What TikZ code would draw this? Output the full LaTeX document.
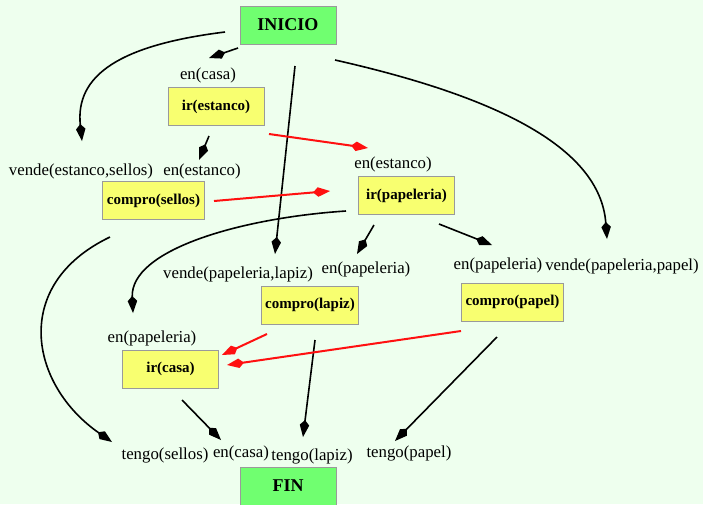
\documentclass[tikz,border=0pt]{standalone}
\usepackage{fontspec}
\setmainfont{Liberation Serif}
\usetikzlibrary{arrows.meta}

\definecolor{bgmint}{HTML}{EEFFEE}
\definecolor{endgreen}{HTML}{70FF70}
\definecolor{actyellow}{HTML}{F8FF70}
\definecolor{boxedge}{HTML}{9A9A9A}
\definecolor{linkred}{HTML}{FF1010}

\tikzset{
  endbox/.style={draw=boxedge, line width=1pt, fill=endgreen, minimum width=96pt,
    minimum height=38pt, inner xsep=4pt, font=\fontsize{18}{20}\selectfont\bfseries},
  actbox/.style={draw=boxedge, line width=1pt, fill=actyellow, minimum width=96pt,
    minimum height=38pt, inner xsep=4pt, font=\fontsize{15}{17}\selectfont\bfseries},
  lit/.style={inner sep=0pt, font=\fontsize{16.8}{18}\selectfont},
  tip/.style={-{Kite[length=17pt,width=9.5pt,inset=5pt]}},
  causal/.style={tip, line width=1.6pt, black},
  threat/.style={tip, line width=2pt, linkred},
}

\begin{document}
\begin{tikzpicture}[x=1pt,y=-1pt]
  \fill[bgmint] (0,0) rectangle (703,504);
  \useasboundingbox (0,0) rectangle (703,504);

  % start and finish
  \node[endbox] (ini) at (288,25) {INICIO};
  \node[endbox] (fin) at (288,486) {FIN};

  % actions
  \node[actbox] (irEst) at (216,106.5) {ir(estanco)};
  \node[actbox] (cSel) at (153.5,200.5) {compro(sellos)};
  \node[actbox] (irPap) at (406.5,195.5) {ir(papeleria)};
  \node[actbox] (cLap) at (310,305) {compro(lapiz)};
  \node[actbox] (cPpl) at (512.5,302) {compro(papel)};
  \node[actbox] (irCas) at (170.5,369) {ir(casa)};

  % conditions
  \node[lit] (pCasa) at (208,75) {en(casa)};
  \node[lit] (pVendS) at (81,171) {vende(estanco,sellos)};
  \node[lit] (pEstA) at (202,171) {en(estanco)};
  \node[lit] (pEstB) at (393,164) {en(estanco)};
  \node[lit] (pVendL) at (238,274) {vende(papeleria,lapiz)};
  \node[lit] (pPapL) at (366,269) {en(papeleria)};
  \node[lit] (pPapP) at (498,265) {en(papeleria)};
  \node[lit] (pVendP) at (622,266) {vende(papeleria,papel)};
  \node[lit] (pPapC) at (152,338) {en(papeleria)};
  \node[lit] (gSel) at (165,455) {tengo(sellos)};
  \node[lit] (gCasa) at (241,453) {en(casa)};
  \node[lit] (gLap) at (312,456) {tengo(lapiz)};
  \node[lit] (gPpl) at (409,453) {tengo(papel)};

  % connector ends
  \coordinate (a1s) at (225,32);   \coordinate (a1e) at (82,141);
  \coordinate (a2s) at (238,48);   \coordinate (a2e) at (209,58);
  \coordinate (a3s) at (295,66);   \coordinate (a3e) at (275,254);
  \coordinate (a4s) at (335,60);   \coordinate (a4e) at (607,239);
  \coordinate (a5s) at (209,136);  \coordinate (a5e) at (199,160);
  \coordinate (r1s) at (269,134);  \coordinate (r1e) at (368,148);
  \coordinate (r2s) at (214,201);  \coordinate (r2e) at (330,191);
  \coordinate (a6s) at (346,211);  \coordinate (a6e) at (133,313);
  \coordinate (a7s) at (374,225);  \coordinate (a7e) at (357,254);
  \coordinate (a8s) at (439,224);  \coordinate (a8e) at (492,245);
  \coordinate (a9s) at (110,237);  \coordinate (a9e) at (112,442);
  \coordinate (r3s) at (267,334);  \coordinate (r3e) at (222,355);
  \coordinate (r4s) at (461,331);  \coordinate (r4e) at (227,365);
  \coordinate (b1s) at (182,400);  \coordinate (b1e) at (221,440);
  \coordinate (b2s) at (315,340);  \coordinate (b2e) at (303,437);
  \coordinate (b3s) at (497,337);  \coordinate (b3e) at (395,441);

  % causal links
  \draw[causal] (a1s) .. controls (120,45) and (75,75) .. (a1e);
  \draw[causal] (a2s) -- (a2e);
  \draw[causal] (a3s) -- (a3e);
  \draw[causal] (a4s) .. controls (490,95) and (600,145) .. (a4e);
  \draw[causal] (a5s) -- (a5e);
  \draw[causal] (a6s) .. controls (240,218) and (130,250) .. (a6e);
  \draw[causal] (a7s) -- (a7e);
  \draw[causal] (a8s) -- (a8e);
  \draw[causal] (a9s) .. controls (10,285) and (30,385) .. (a9e);
  \draw[causal] (b1s) -- (b1e);
  \draw[causal] (b2s) -- (b2e);
  \draw[causal] (b3s) -- (b3e);

  % ordering links
  \draw[threat] (r1s) -- (r1e);
  \draw[threat] (r2s) -- (r2e);
  \draw[threat] (r3s) -- (r3e);
  \draw[threat] (r4s) -- (r4e);
\end{tikzpicture}
\end{document}
